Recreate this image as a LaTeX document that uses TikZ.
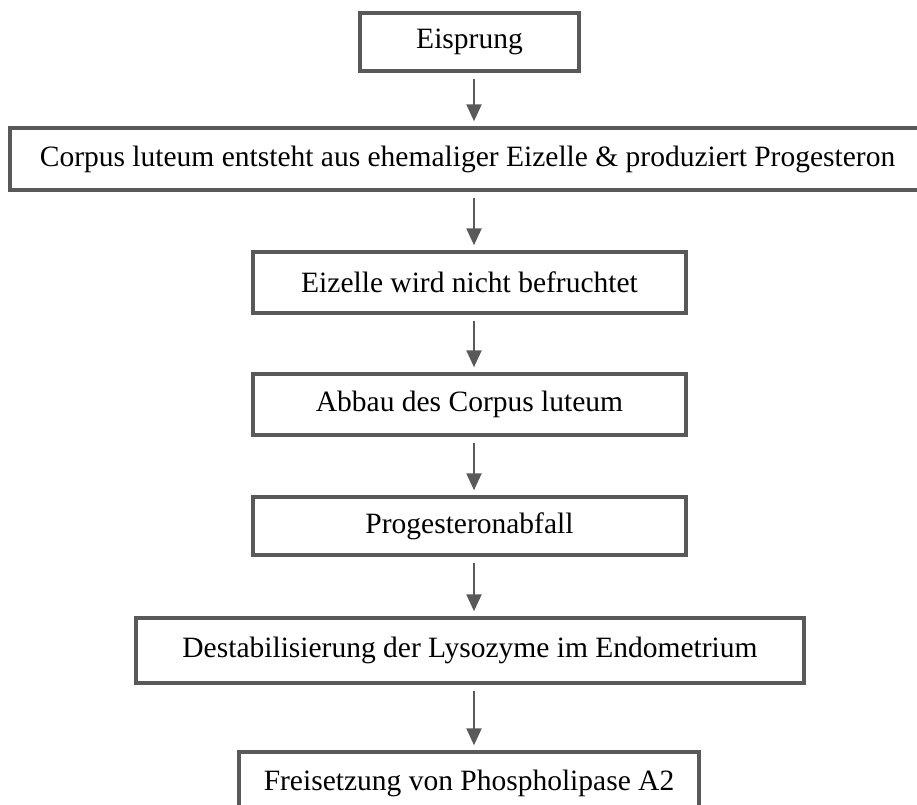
\documentclass[tikz,border=0pt]{standalone}
\usepackage{fontspec}
\setmainfont{Liberation Serif}
\usetikzlibrary{arrows.meta}
\definecolor{framegray}{HTML}{595959}
\begin{document}
\begin{tikzpicture}[x=1pt, y=-1pt,
    stepbox/.style={draw=framegray, line width=3.5pt, fill=white, inner sep=0pt,
        font=\fontsize{29.5}{34}\selectfont},
    flow/.style={draw=framegray, line width=2.4pt, shorten <=6pt, shorten >=5pt,
        -{Triangle[length=17pt, width=15pt]}}]

\useasboundingbox (0,0) rectangle (917,804);

% Draw boxes
\node[stepbox, minimum width=219pt, minimum height=58pt] (eisprung) at (469.5,42) {Eisprung};
\node[stepbox, minimum width=915pt, minimum height=62pt] (corpus) at (467.5,159) {Corpus luteum entsteht aus ehemaliger Eizelle \& produziert Progesteron};
\node[stepbox, minimum width=433pt, minimum height=61pt] (befruchtet) at (469.5,282.5) {Eizelle wird nicht befruchtet};
\node[stepbox, minimum width=433pt, minimum height=61pt] (abbau) at (469.5,404.5) {Abbau des Corpus luteum};
\node[stepbox, minimum width=433pt, minimum height=58pt] (abfall) at (469.5,526) {Progesteronabfall};
\node[stepbox, minimum width=668pt, minimum height=65pt] (lysozyme) at (470,650.5) {Destabilisierung der Lysozyme im Endometrium};
\node[stepbox, minimum width=460pt, minimum height=62pt] (phospho) at (469,783) {Freisetzung von Phospholipase A2};

% Draw arrows
\coordinate (axis) at (474,0);
\draw[flow] (eisprung.south -| axis) -- (corpus.north -| axis);
\draw[flow] (corpus.south -| axis) -- (befruchtet.north -| axis);
\draw[flow] (befruchtet.south -| axis) -- (abbau.north -| axis);
\draw[flow] (abbau.south -| axis) -- (abfall.north -| axis);
\draw[flow] (abfall.south -| axis) -- (lysozyme.north -| axis);
\draw[flow] (lysozyme.south -| axis) -- (phospho.north -| axis);

\end{tikzpicture}
\end{document}
